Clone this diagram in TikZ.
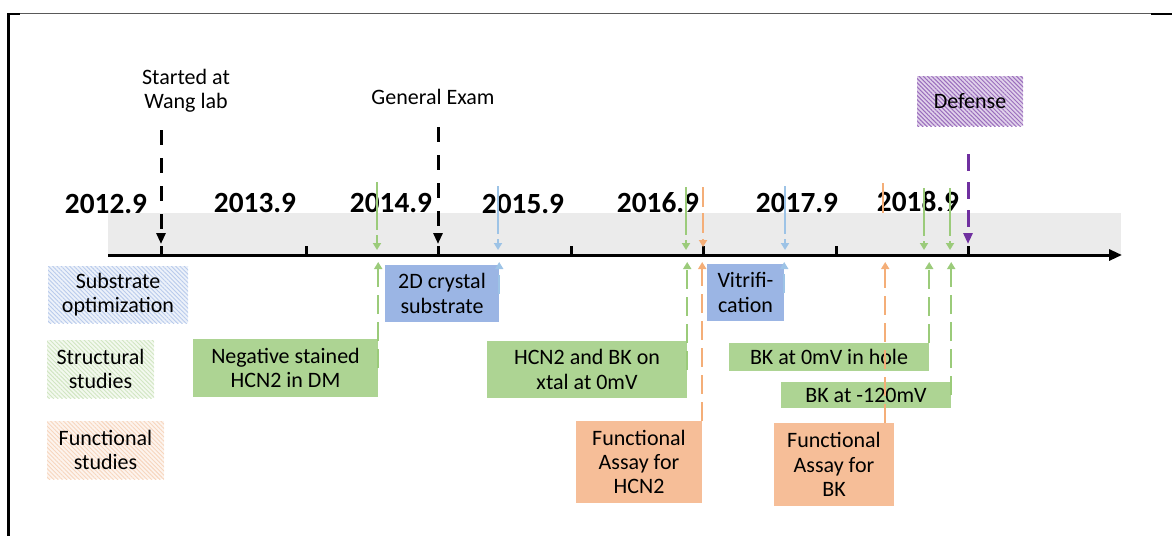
\documentclass[tikz,border=0pt]{standalone}
\usepackage{fontspec}
\setmainfont{Carlito}
\usetikzlibrary{arrows.meta,patterns.meta}

\definecolor{bandGray}{HTML}{EBEBEB}
\definecolor{subBlue}{HTML}{9BB5E4}
\definecolor{strGreen}{HTML}{ADD493}
\definecolor{funOrange}{HTML}{F6BE98}
\definecolor{keyGreen}{HTML}{BDDCA8}
\definecolor{keyOrange}{HTML}{F4C4A2}
\definecolor{lineBlue}{HTML}{9DC3E6}
\definecolor{lineGreen}{HTML}{9BCB7A}
\definecolor{lineOrange}{HTML}{F4AE78}
\definecolor{defPurple}{HTML}{7030A0}

\begin{document}
\begin{tikzpicture}
[x=1pt, y=-1pt,
  yearText/.style={font=\fontsize{29.3}{32}\selectfont\bfseries, anchor=base, inner sep=0pt},
  noteText/.style={font=\fontsize{22}{24.4}\selectfont, align=center, inner sep=0pt},
  eventBox/.style={noteText, fill=#1},
  keyBox/.style={noteText, preaction={fill=#1!18},
    pattern={Lines[angle=-45,distance=3pt,line width=0.9pt]}, pattern color=#1!70},
  markArrow/.style={line width=3pt, -{Triangle[length=11pt,width=9pt]},
    dash pattern=on 15pt off 13pt, shorten >=11pt},
  upArrow/.style={line width=2.5pt, draw=#1, -{Triangle[length=7pt,width=8pt]}},
  longGap/.style={dash pattern=on 48pt off 5pt, shorten >=5pt},
  shortGap/.style={dash pattern=on 20pt off 6pt, shorten >=8pt},
  lowArrow/.style={line width=2.5pt, draw=#1, -{Triangle[length=7pt,width=8pt]},
    dash pattern=on 19pt off 8pt, shorten >=7pt}]
\useasboundingbox (0,0) rectangle (1172,536);

%% frame
\draw[gray!70!black, line width=1pt] (8,13) -- (1172,13);
\draw[line width=2.5pt] (7,14) -- (20,14);
\draw[line width=2.5pt] (1151,14) -- (1172,14);
\draw[line width=3pt] (8,13) -- (8,536);

%% time axis
\fill[bandGray] (108,213) rectangle (1121,255);
\foreach \yname/\x/\y/\lbl in {
  yrA/106/213/2012.9, yrB/255/212/2013.9, yrC/391/212/2014.9,
  yrD/523/213/2015.9, yrE/658/212/2016.9, yrF/797/212/2017.9,
  yrG/918/211/2018.9}
{
  \node[yearText] (\yname) at (\x,\y) {\lbl};
}
\coordinate (axL) at (108,255);
\coordinate (axR) at (1122,255);
\draw[line width=3pt, -{Triangle[length=13pt,width=11pt]}] (axL) -- (axR);
\foreach \x in {161,306,438,571,703,836,968}
  \draw[line width=3pt] (\x,246) -- (\x,255);

%% milestones
\node[noteText] (start) at (186,91) {Started at\\Wang lab};
\node[noteText] (exam) at (433,97) {General Exam};
\node[noteText, preaction={fill=defPurple!22},
  pattern={Lines[angle=-45,distance=3pt,line width=1pt]}, pattern color=defPurple!70,
  minimum width=106pt, minimum height=50pt] (defense) at (970,101) {Defense};
\coordinate (startTop) at (161,130);
\coordinate (examTop) at (438,127);
\coordinate (defTop) at (968,154);
\draw[markArrow] (startTop) -- (startTop |- axL);
\draw[markArrow] (examTop) -- (examTop |- axL);
\draw[markArrow, draw=defPurple, dash pattern=on 17pt off 11pt] (defTop) -- (defTop |- axL);

%% legend
\node[keyBox=subBlue, minimum width=140pt, minimum height=57pt] (keySub) at (118,294.5) {Substrate\\optimization};
\node[keyBox=keyGreen, minimum width=107pt, minimum height=58pt] (keyStr) at (100.5,369) {Structural\\studies};
\node[keyBox=keyOrange, minimum width=117pt, minimum height=58pt] (keyFun) at (105.5,450) {Functional\\studies};

%% events
\node[eventBox=strGreen, minimum width=185pt, minimum height=58pt] (neg) at (285.5,368) {Negative stained\\HCN2 in DM};
\node[eventBox=subBlue, minimum width=114pt, minimum height=57pt] (crys) at (442,293.5) {2D crystal\\substrate};
\node[eventBox=strGreen, minimum width=200pt, minimum height=57pt] (xtal) at (587,369.5) {HCN2 and BK on\\xtal at 0mV};
\node[eventBox=funOrange, minimum width=126pt, minimum height=82pt] (fhcn) at (639,462) {Functional\\Assay for\\HCN2};
\node[eventBox=subBlue, minimum width=77pt, minimum height=57pt] (vit) at (745.5,292.5) {Vitrifi-\\cation};
\node[eventBox=strGreen, minimum width=200pt, minimum height=28pt] (hole) at (829,357) {BK at 0mV in hole};
\node[eventBox=strGreen, minimum width=170pt, minimum height=26pt] (neg120) at (866,395) {BK at -120mV};
\node[eventBox=funOrange, minimum width=120pt, minimum height=83pt] (fbk) at (834,464.5) {Functional\\Assay for\\BK};

%% markers above the axis
\foreach \evname/\x/\ytop/\col/\gap in {
  neg/377/182/lineGreen/longGap, crys/498/186/lineBlue/longGap,
  xtal/686/187/lineGreen/longGap, fhcn/703/187/lineOrange/shortGap,
  vit/785/186/lineBlue/longGap, hole/924/188/lineGreen/longGap,
  neg120/950/188/lineGreen/longGap}
{
  \coordinate (\evname Top) at (\x,\ytop);
  \draw[upArrow=\col, \gap] (\evname Top) -- (\evname Top |- axL);
}
\coordinate (fbkTop) at (883,183);
\coordinate (fbkEnd) at (883,213);
\draw[lineOrange, line width=2.5pt] (fbkTop) -- (fbkEnd);

%% markers below the axis
\coordinate (fbkFoot) at ([xshift=-9pt]fbk.north east);
\path
\foreach \src/\col in {
  neg.east/lineGreen, crys.east/lineBlue, xtal.east/lineGreen,
  fhcn.north east/lineOrange, vit.east/lineBlue, hole.north east/lineGreen,
  neg120.east/lineGreen, fbkFoot/lineOrange}
{
  (\src) edge[lowArrow=\col] (\src |- axL)
};
\end{tikzpicture}
\end{document}
